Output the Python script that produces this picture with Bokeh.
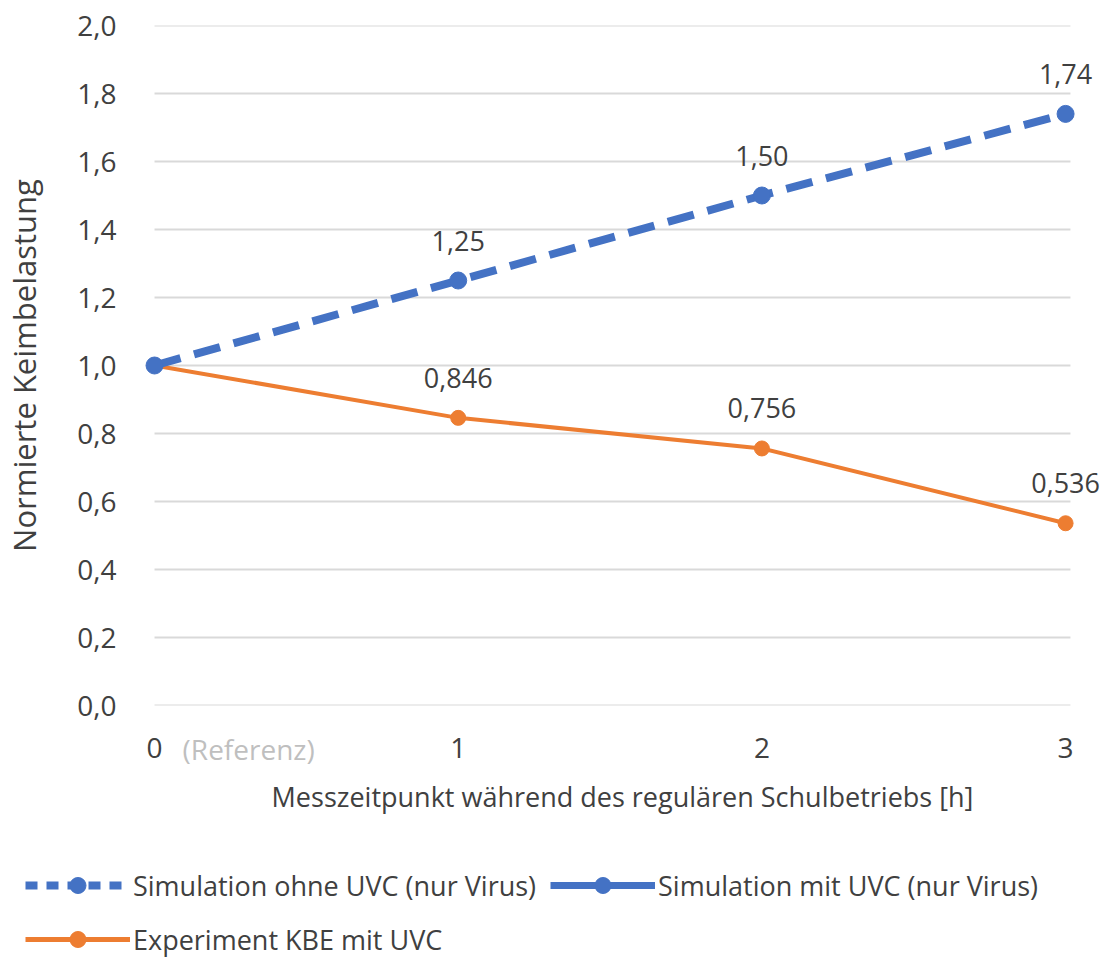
from bokeh.plotting import figure
from bokeh.layouts import column
from bokeh.models import ColumnDataSource, Legend, LegendItem, FixedTicker, Range1d, LinearAxis
from bokeh.core.properties import value
from bokeh.embed import file_html
from bokeh.resources import INLINE

# Data
x_hours = [0, 1, 2, 3]
x_tick_labels = ["0", "1", "2", "3"]
x_ref_label = "(Referenz)"
sim_ohne_uvc = [1.0, 1.25, 1.50, 1.74]
sim_ohne_labels = ["", "1,25", "1,50", "1,74"]
sim_mit_uvc_x = []
sim_mit_uvc = []
exp_kbe = [1.0, 0.846, 0.756, 0.536]
exp_kbe_labels = ["", "0,846", "0,756", "0,536"]
y_ticks = [0.0, 0.2, 0.4, 0.6, 0.8, 1.0, 1.2, 1.4, 1.6, 1.8, 2.0]
grid_x_start = [0.0] * len(y_ticks)
grid_x_end = [3.016] * len(y_ticks)

BLUE = "#4472C4"
ORANGE = "#ED7D31"
FONT = "Open Sans"
TXT = "#404040"
W = 1100

X0, X1 = -0.033, 3.115
p = figure(width=W, height=840, output_backend="svg", toolbar_location=None,
           x_range=Range1d(X0, X1), y_range=Range1d(0, 2.0), x_axis_location=None,
           min_border_left=140, min_border_right=0, min_border_top=25, min_border_bottom=135)
p.outline_line_color = None
p.background_fill_color = "white"
p.border_fill_color = "white"
p.xgrid.grid_line_color = None
p.ygrid.grid_line_color = None
p.frame_align = False

# main x axis
xax = LinearAxis(ticker=FixedTicker(ticks=x_hours),
                 major_label_overrides={x: s for x, s in zip(x_hours, x_tick_labels)},
                 axis_label="Messzeitpunkt während des regulären Schulbetriebs [h]")
p.add_layout(xax, "below")
# gray "(Referenz)" note next to 0
REF_POS = 0.31
p.extra_x_ranges = {"ref": Range1d(X0 - REF_POS, X1 - REF_POS)}
refax = LinearAxis(x_range_name="ref", ticker=FixedTicker(ticks=[0]),
                   major_label_overrides={0: x_ref_label})
p.add_layout(refax, "below")

p.yaxis.ticker = FixedTicker(ticks=y_ticks)
p.yaxis.major_label_overrides = {t: f"{t:.1f}".replace(".", ",") for t in y_ticks}
p.yaxis.axis_label = "Normierte Keimbelastung"

for ax in (xax, refax, p.yaxis[0]):
    ax.axis_line_color = None
    ax.major_tick_line_color = None
    ax.minor_tick_line_color = None
    ax.major_label_text_font = FONT
    ax.major_label_text_font_size = "28px"
    ax.major_label_text_color = TXT
    ax.axis_label_text_font = FONT
    ax.axis_label_text_color = TXT
    ax.axis_label_text_font_style = "normal"
xax.axis_label_text_font_size = "27px"
xax.major_label_standoff = 26
xax.axis_label_standoff = 17
refax.major_label_text_color = "#BFBFBF"
refax.major_label_text_font_size = "28px"
refax.major_label_standoff = -94
p.yaxis.major_label_standoff = 22
p.yaxis.axis_label_text_font_size = "31px"
p.yaxis.axis_label_standoff = 29

# horizontal gridlines
p.segment(x0=grid_x_start, x1=grid_x_end, y0=y_ticks, y1=y_ticks,
          line_color="#D9D9D9", line_width=2)

src_ohne = ColumnDataSource(dict(x=x_hours, y=sim_ohne_uvc, lab=sim_ohne_labels))
src_mit = ColumnDataSource(dict(x=sim_mit_uvc_x, y=sim_mit_uvc))
src_exp = ColumnDataSource(dict(x=x_hours, y=exp_kbe, lab=exp_kbe_labels))

l_exp = p.line("x", "y", source=src_exp, line_color=ORANGE, line_width=4)
m_exp = p.scatter("x", "y", source=src_exp, size=15, fill_color=ORANGE, line_color=ORANGE)
l_ohne = p.line("x", "y", source=src_ohne, line_color=BLUE, line_width=8, line_dash="27 14")
m_ohne = p.scatter("x", "y", source=src_ohne, size=17, fill_color=BLUE, line_color=BLUE)
l_mit = p.line("x", "y", source=src_mit, line_color=BLUE, line_width=7)

for src in (src_ohne, src_exp):
    p.text("x", "y", text="lab", source=src, text_font=value(FONT), text_font_size="27px",
           text_color=TXT, text_align="center", text_baseline="middle", y_offset=-40)

# legend figure (its renderers lie outside its view; only the legend shows)
lf = figure(width=W, height=126, output_backend="svg", toolbar_location=None,
            x_range=Range1d(100, 101), y_range=Range1d(100, 101),
            x_axis_location=None, y_axis_location=None,
            min_border_left=25, min_border_right=0, min_border_top=25, min_border_bottom=0)
lf.outline_line_color = None
lf.xgrid.grid_line_color = None
lf.ygrid.grid_line_color = None
lf.frame_align = False
g1 = lf.line("x", "y", source=src_ohne, line_color=BLUE, line_width=8, line_dash="12 9")
g1m = lf.scatter("x", "y", source=src_ohne, size=15, fill_color=BLUE, line_color=BLUE)
g2 = lf.line("x", "y", source=src_ohne, line_color=BLUE, line_width=7)
g2m = lf.scatter("x", "y", source=src_ohne, size=15, fill_color=BLUE, line_color=BLUE)
g3 = lf.line("x", "y", source=src_exp, line_color=ORANGE, line_width=5)
g3m = lf.scatter("x", "y", source=src_exp, size=13, fill_color=ORANGE, line_color=ORANGE)

legend = Legend(items=[
    LegendItem(label="Simulation ohne UVC (nur Virus)", renderers=[g1, g1m]),
    LegendItem(label="Simulation mit UVC (nur Virus)", renderers=[g2, g2m]),
    LegendItem(label="Experiment KBE mit UVC", renderers=[g3, g3m]),
], orientation="horizontal", ncols=2, location="top_left", glyph_width=105, glyph_height=40,
    label_text_font=FONT, label_text_font_size="27px", label_text_color=TXT,
    label_standoff=3, spacing=14, padding=0, margin=0,
    border_line_color=None, background_fill_alpha=0)
lf.add_layout(legend, "center")

layout = column(p, lf, spacing=0)
open("out.html", "w").write(file_html(layout, INLINE))
